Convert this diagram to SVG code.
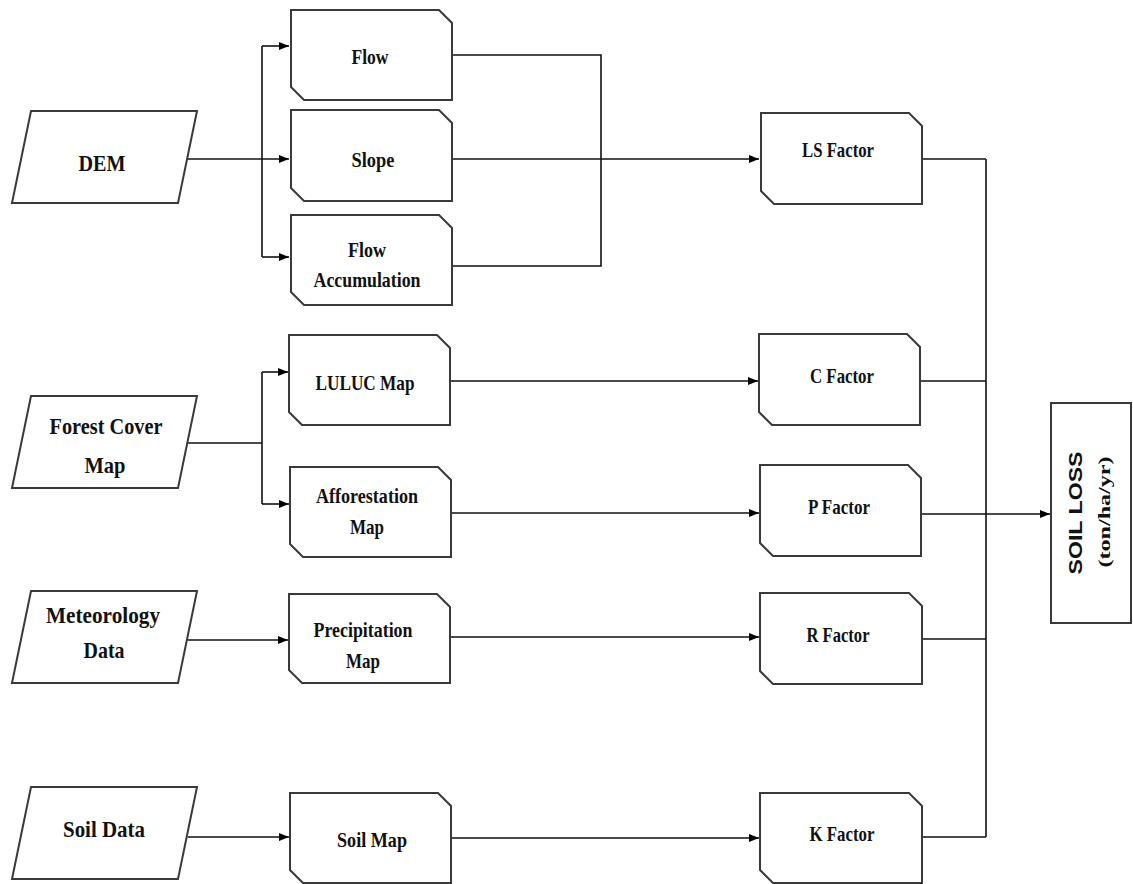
<svg xmlns="http://www.w3.org/2000/svg" width="1133" height="884" viewBox="0 0 1133 884">
<defs>
<marker id="arr" viewBox="0 0 10 8" refX="10" refY="4" markerWidth="10" markerHeight="8" markerUnits="userSpaceOnUse" orient="auto">
<path d="M0,0 L10,4 L0,8 Z" fill="#000"/>
</marker>
</defs>
<style>
.shape{fill:#fff;stroke:#3a3a3a;stroke-width:2;stroke-linejoin:miter}
.conn{fill:none;stroke:#111;stroke-width:1.6}
.in{font-family:"Liberation Serif",serif;font-weight:bold;font-size:23px;fill:#111;text-anchor:middle}
.bx{font-family:"Liberation Serif",serif;font-weight:bold;font-size:21px;fill:#111;text-anchor:middle}
.sl{font-family:"Liberation Sans",sans-serif;font-weight:bold;font-size:18px;fill:#111;text-anchor:middle}
</style>
<rect width="1133" height="884" fill="#fff"/>

<g id="connectors">
<path class="conn" d="M188,159 H289" marker-end="url(#arr)"/>
<path class="conn" d="M262,46 V257"/>
<path class="conn" d="M262,46 H289" marker-end="url(#arr)"/>
<path class="conn" d="M262,257 H289" marker-end="url(#arr)"/>
<path class="conn" d="M452,55 H601 V266 H452"/>
<path class="conn" d="M452,159 H759" marker-end="url(#arr)"/>
<path class="conn" d="M188,443 H262"/>
<path class="conn" d="M262,372 V504"/>
<path class="conn" d="M262,372 H288" marker-end="url(#arr)"/>
<path class="conn" d="M262,504 H289" marker-end="url(#arr)"/>
<path class="conn" d="M450,381 H758" marker-end="url(#arr)"/>
<path class="conn" d="M451,513 H759" marker-end="url(#arr)"/>
<path class="conn" d="M188,640 H288" marker-end="url(#arr)"/>
<path class="conn" d="M450,637 H759" marker-end="url(#arr)"/>
<path class="conn" d="M188,837 H289" marker-end="url(#arr)"/>
<path class="conn" d="M451,838 H759" marker-end="url(#arr)"/>
<path class="conn" d="M922,159 H986"/>
<path class="conn" d="M920,381 H986"/>
<path class="conn" d="M921,514 H1050" marker-end="url(#arr)"/>
<path class="conn" d="M922,639 H986"/>
<path class="conn" d="M922,837 H986"/>
<path class="conn" d="M986,159 V837"/>
</g>

<g id="dem">
<path class="shape" d="M31,111 H197 L178,203 H12 Z"/>
<text class="in" x="102" y="171" textLength="47" lengthAdjust="spacingAndGlyphs">DEM</text>
</g>
<g id="forest-cover-map">
<path class="shape" d="M31,396 H197 L178,488 H12 Z"/>
<text class="in" x="106" y="434" textLength="113" lengthAdjust="spacingAndGlyphs">Forest Cover</text>
<text class="in" x="105" y="473" textLength="41" lengthAdjust="spacingAndGlyphs">Map</text>
</g>
<g id="meteorology-data">
<path class="shape" d="M31,591 H197 L178,683 H12 Z"/>
<text class="in" x="103" y="623" textLength="114" lengthAdjust="spacingAndGlyphs">Meteorology</text>
<text class="in" x="104" y="658" textLength="41" lengthAdjust="spacingAndGlyphs">Data</text>
</g>
<g id="soil-data">
<path class="shape" d="M31,787 H197 L178,879 H12 Z"/>
<text class="in" x="104" y="837" textLength="82" lengthAdjust="spacingAndGlyphs">Soil Data</text>
</g>

<g id="flow">
<path class="shape" d="M291,10 H439 L452,23 V100 H304 L291,87 Z"/>
<text class="bx" x="370" y="64" textLength="37" lengthAdjust="spacingAndGlyphs">Flow</text>
</g>
<g id="slope">
<path class="shape" d="M291,110 H439 L452,123 V201 H304 L291,188 Z"/>
<text class="bx" x="373" y="167" textLength="43" lengthAdjust="spacingAndGlyphs">Slope</text>
</g>
<g id="flow-accumulation">
<path class="shape" d="M291,215 H439 L452,228 V305 H304 L291,292 Z"/>
<text class="bx" x="367" y="257" textLength="38" lengthAdjust="spacingAndGlyphs">Flow</text>
<text class="bx" x="367" y="287" textLength="107" lengthAdjust="spacingAndGlyphs">Accumulation</text>
</g>
<g id="luluc-map">
<path class="shape" d="M289,335 H437 L450,348 V425 H302 L289,412 Z"/>
<text class="bx" x="365" y="390" textLength="99" lengthAdjust="spacingAndGlyphs">LULUC Map</text>
</g>
<g id="afforestation-map">
<path class="shape" d="M290,467 H438 L451,480 V557 H303 L290,544 Z"/>
<text class="bx" x="367" y="503" textLength="102" lengthAdjust="spacingAndGlyphs">Afforestation</text>
<text class="bx" x="367" y="534" textLength="34" lengthAdjust="spacingAndGlyphs">Map</text>
</g>
<g id="precipitation-map">
<path class="shape" d="M289,594 H437 L450,607 V683 H302 L289,670 Z"/>
<text class="bx" x="363" y="637" textLength="99" lengthAdjust="spacingAndGlyphs">Precipitation</text>
<text class="bx" x="363" y="668" textLength="34" lengthAdjust="spacingAndGlyphs">Map</text>
</g>
<g id="soil-map">
<path class="shape" d="M290,793 H438 L451,806 V883 H303 L290,870 Z"/>
<text class="bx" x="372" y="847" textLength="70" lengthAdjust="spacingAndGlyphs">Soil Map</text>
</g>

<g id="ls-factor">
<path class="shape" d="M761,113 H909 L922,126 V204 H774 L761,191 Z"/>
<text class="bx" x="838" y="157" textLength="72" lengthAdjust="spacingAndGlyphs">LS Factor</text>
</g>
<g id="c-factor">
<path class="shape" d="M759,334 H907 L920,347 V425 H772 L759,412 Z"/>
<text class="bx" x="842" y="383" textLength="64" lengthAdjust="spacingAndGlyphs">C Factor</text>
</g>
<g id="p-factor">
<path class="shape" d="M760,465 H908 L921,478 V556 H773 L760,543 Z"/>
<text class="bx" x="839" y="514" textLength="62" lengthAdjust="spacingAndGlyphs">P Factor</text>
</g>
<g id="r-factor">
<path class="shape" d="M760,593 H909 L922,606 V684 H773 L760,671 Z"/>
<text class="bx" x="838" y="642" textLength="63" lengthAdjust="spacingAndGlyphs">R Factor</text>
</g>
<g id="k-factor">
<path class="shape" d="M760,793 H909 L922,806 V883 H773 L760,870 Z"/>
<text class="bx" x="842" y="841" textLength="65" lengthAdjust="spacingAndGlyphs">K Factor</text>
</g>

<g id="soil-loss">
<rect class="shape" x="1051" y="403" width="80" height="220"/>
<text class="sl" transform="translate(1082,513) rotate(-90)" x="0" y="0" textLength="123" lengthAdjust="spacingAndGlyphs">SOIL LOSS</text>
<text class="bx" style="font-size:17px" transform="translate(1110,512) rotate(-90)" x="0" y="0" textLength="111" lengthAdjust="spacingAndGlyphs">(ton/ha/yr)</text>
</g>
</svg>
